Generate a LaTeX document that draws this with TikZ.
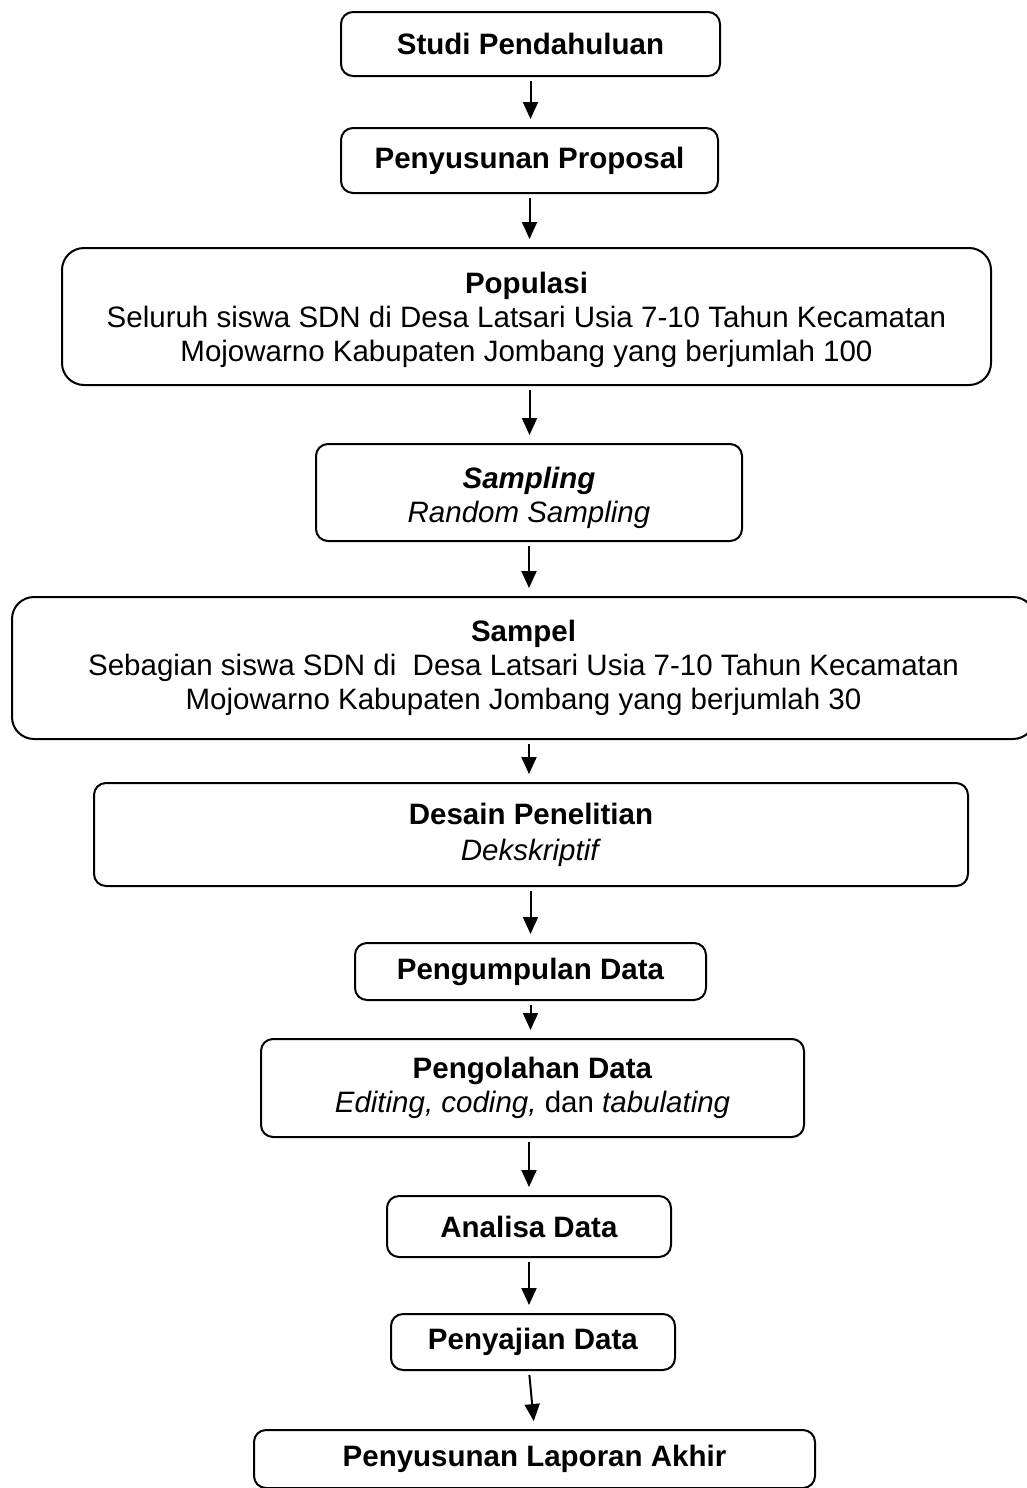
\documentclass[tikz,border=0pt]{standalone}
\usepackage{fontspec}
\setmainfont{Liberation Sans}
\usetikzlibrary{arrows.meta}

\begin{document}
\begin{tikzpicture}[x=0.5pt, y=-0.5pt,
		box/.style={draw, rectangle, rounded corners=6pt, line width=1pt, align=center, inner sep=0pt, font=\fontsize{14.75}{17}\selectfont},
		bigbox/.style={box, rounded corners=11pt},
		txt/.style={align=center, inner sep=0pt, font=\fontsize{14.75}{17}\selectfont},
		arrow/.style={-{Triangle[length=8.5pt, width=7.5pt]}, line width=1pt, shorten <=2pt, shorten >=4pt}]
			\useasboundingbox (0, 0) rectangle (1027, 1488);
			\clip (0, 0) rectangle (1027, 1488);

			\draw (530.5, 44) 	node[box, minimum width=189.5pt, minimum height=32pt] 		(studi) 	{\textbf{Studi Pendahuluan}};
			\draw (529.5, 160.5) 	node[box, minimum width=188.5pt, minimum height=32.5pt] 	(proposal) 	{\textbf{Penyusunan Proposal}};
			\draw (526.5, 316.5) 	node[bigbox, minimum width=464.5pt, minimum height=68.5pt] 	(populasi) 	{};
			\draw (526.5, 319.5) 	node[txt] 							(populasi_txt) 	{\textbf{Populasi}\\Seluruh siswa SDN di Desa Latsari Usia 7-10 Tahun Kecamatan\\Mojowarno Kabupaten Jombang yang berjumlah 100};
			\draw (529, 492.5) 	node[box, minimum width=213pt, minimum height=48.5pt] 		(sampling) 	{};
			\draw (529, 498) 	node[txt] 							(sampling_txt) 	{\textbf{\textit{Sampling}}\\\textit{Random Sampling}};
			\draw (523.5, 668) 	node[bigbox, minimum width=511.5pt, minimum height=71pt] 	(sampel) 	{\textbf{Sampel}\\Sebagian siswa SDN di~ Desa Latsari Usia 7-10 Tahun Kecamatan\\Mojowarno Kabupaten Jombang yang berjumlah 30};
			\draw (531, 834.5) 	node[box, minimum width=437pt, minimum height=51.5pt] 		(desain) 	{\textbf{Desain Penelitian}\\[1pt]\textit{Dekskriptif}};
			\draw (530.5, 971.5) 	node[box, minimum width=175.5pt, minimum height=28.5pt] 	(kumpul) 	{\textbf{Pengumpulan Data}};
			\draw (532.5, 1088) 	node[box, minimum width=271.5pt, minimum height=49pt] 		(olah) 		{\textbf{Pengolahan Data}\\\textit{Editing, coding,} dan \textit{tabulating}};
			\draw (529, 1226.5) 	node[box, minimum width=142pt, minimum height=30.5pt] 		(analisa) 	{\textbf{Analisa Data}};
			\draw (533, 1342) 	node[box, minimum width=142pt, minimum height=28pt] 		(saji) 		{\textbf{Penyajian Data}};
			\draw (534.5, 1459) 	node[box, minimum width=280.5pt, minimum height=29pt] 		(laporan) 	{\textbf{Penyusunan Laporan Akhir}};

			\draw[arrow] (studi.south) -- (studi.south |- proposal.north);
			\draw[arrow] (proposal.south) -- (proposal.south |- populasi.north);
			\draw[arrow] (populasi.south -| proposal.south) -- (proposal.south |- sampling.north);
			\draw[arrow] (sampling.south) -- (sampling.south |- sampel.north);
			\draw[arrow] (sampel.south -| sampling.south) -- (sampling.south |- desain.north);
			\draw[arrow] (desain.south -| kumpul.north) -- (kumpul.north);
			\draw[arrow] (kumpul.south) -- (kumpul.south |- olah.north);
			\draw[arrow] (olah.south -| analisa.north) -- (analisa.north);
			\draw[arrow] (analisa.south) -- (analisa.south |- saji.north);
			\draw[arrow] (saji.south -| analisa.north) -- (laporan.north);
		\end{tikzpicture}
\end{document}
